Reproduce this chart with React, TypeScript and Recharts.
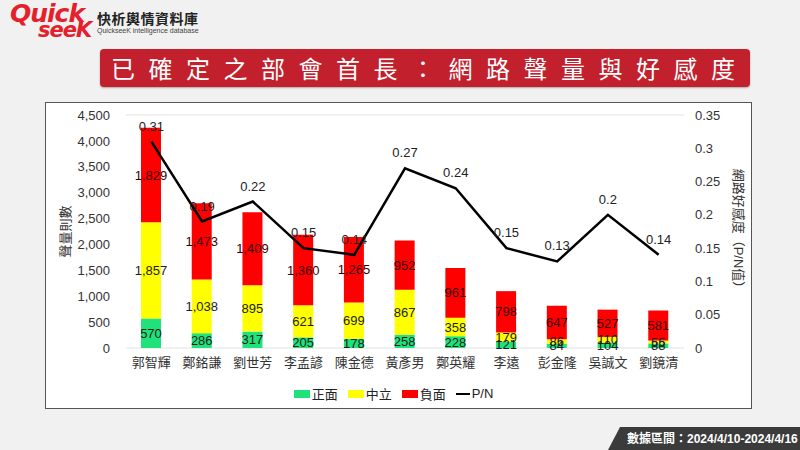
import { ComposedChart, Bar, Line, XAxis, YAxis, CartesianGrid, LabelList } from 'recharts';

const names = ['郭智輝', '鄭銘謙', '劉世芳', '李孟諺', '陳金德', '黃彥男', '鄭英耀', '李遠', '彭金隆', '吳誠文', '劉鏡清'];
const positive = [570, 286, 317, 205, 178, 258, 228, 121, 84, 104, 88];
const neutral = [1857, 1038, 895, 621, 699, 867, 358, 179, 86, 110, 55];
const negative = [1829, 1473, 1409, 1360, 1265, 952, 961, 798, 647, 527, 581];
const pn = [0.31, 0.19, 0.22, 0.15, 0.14, 0.27, 0.24, 0.15, 0.13, 0.2, 0.14];

const leftTicks = [0, 500, 1000, 1500, 2000, 2500, 3000, 3500, 4000, 4500];
const rightTicks = [0, 0.05, 0.1, 0.15, 0.2, 0.25, 0.3, 0.35];

const data = names.map((name, i) => ({
  name,
  pos: positive[i],
  neu: neutral[i],
  neg: negative[i],
  pn: pn[i],
}));

const FONT = '"Liberation Sans", "Noto Sans CJK TC", sans-serif';
const GREEN = '#1fe27a';
const YELLOW = '#ffff00';
const RED = '#ff0000';

const fmt = (v: number) => v.toLocaleString('en-US');

const legendItems = [
  { label: '正面', color: GREEN, type: 'box' },
  { label: '中立', color: YELLOW, type: 'box' },
  { label: '負面', color: RED, type: 'box' },
  { label: 'P/N', color: '#000', type: 'line' },
];

const ChartLegend = () => (
  <div style={{ display: 'flex', justifyContent: 'center', alignItems: 'center', fontSize: 13, color: '#222', fontFamily: FONT }}>
    {legendItems.map((it) => (
      <div key={it.label} style={{ display: 'flex', alignItems: 'center', marginRight: 10 }}>
        {it.type === 'box' ? (
          <span style={{ display: 'inline-block', width: 16, height: 8, background: it.color, marginRight: 2 }} />
        ) : (
          <span style={{ display: 'inline-block', width: 14, height: 2, background: it.color, marginRight: 2 }} />
        )}
        <span>{it.label}</span>
      </div>
    ))}
  </div>
);

const App = () => {
  return (
    <div style={{ position: 'fixed', left: 0, top: 0, width: 800, height: 450, background: '#f1f1f1', overflow: 'hidden', fontFamily: FONT }}>
      {/* logo */}
      <div style={{ position: 'absolute', left: 10, top: 2, color: '#e3202b', fontWeight: 900, fontStyle: 'italic', fontSize: 25, lineHeight: '24px', fontFamily: '"DejaVu Sans", sans-serif', letterSpacing: -1 }}>
        Quick
      </div>
      <div style={{ position: 'absolute', left: 38, top: 19, color: '#e3202b', fontWeight: 900, fontStyle: 'italic', fontSize: 21, lineHeight: '22px', fontFamily: '"DejaVu Sans", sans-serif', letterSpacing: -1 }}>
        seeK
      </div>
      <div style={{ position: 'absolute', left: 97, top: 8, fontSize: 14, fontWeight: 700, color: '#222', letterSpacing: 0.5 }}>快析輿情資料庫</div>
      <div style={{ position: 'absolute', left: 97, top: 27, fontSize: 7, color: '#444' }}>QuickseeK intelligence database</div>

      {/* title banner */}
      <div style={{ position: 'absolute', left: 100, top: 49, width: 650, height: 38, background: '#c3202d', borderRadius: 4, boxShadow: '0 1px 2px rgba(0,0,0,0.3)' }} />
      <div style={{ position: 'absolute', left: 111, top: 49, height: 38, lineHeight: '38px', fontSize: 24, color: '#fff', letterSpacing: 13.5, whiteSpace: 'nowrap', fontFamily: '"Noto Sans CJK TC", sans-serif' }}>
        已確定之部會首長：網路聲量與好感度
      </div>

      {/* chart panel */}
      <div style={{ position: 'absolute', left: 45, top: 102, width: 705, height: 305, background: '#fff', border: '1px solid #555' }}>
        <div style={{ position: 'absolute', left: -1, top: -1 }}>
          <ComposedChart
            width={707}
            height={307}
            data={data}
            margin={{ top: 13, right: 13, bottom: 31, left: 21 }}
            barCategoryGap={0}
            style={{ fontFamily: FONT }}
          >
            <CartesianGrid vertical={false} stroke="#e2e2e2" />
            <XAxis
              dataKey="name"
              height={30}
              axisLine={false}
              tickLine={false}
              tickSize={0}
              tickMargin={10}
              interval={0}
              tick={{ fontSize: 13, fill: '#333' }}
            />
            <YAxis
              yAxisId="left"
              width={60}
              domain={[0, 4500]}
              ticks={leftTicks}
              interval={0}
              axisLine={false}
              tickLine={false}
              tickSize={0}
              tickMargin={16}
              tickFormatter={fmt}
              tick={{ fontSize: 13, fill: '#333' }}
              label={{ value: '聲量則數', angle: -90, position: 'insideLeft', offset: -1, style: { fontSize: 13, fill: '#333', textAnchor: 'middle' } }}
            />
            <YAxis
              yAxisId="right"
              orientation="right"
              width={55}
              domain={[0, 0.35]}
              ticks={rightTicks}
              interval={0}
              axisLine={false}
              tickLine={false}
              tickSize={0}
              tickMargin={11}
              tick={{ fontSize: 13, fill: '#333', textAnchor: 'start' }}
              label={{ value: '網路好感度（P/N值）', angle: 90, position: 'insideRight', offset: 0, style: { fontSize: 13, fill: '#333', textAnchor: 'middle' } }}
            />
            <Bar yAxisId="left" dataKey="pos" stackId="a" fill={GREEN} barSize={20} isAnimationActive={false}>
              <LabelList dataKey="pos" position="center" formatter={fmt} style={{ fontSize: 13, fill: '#1d1d1d' }} />
            </Bar>
            <Bar yAxisId="left" dataKey="neu" stackId="a" fill={YELLOW} barSize={20} isAnimationActive={false}>
              <LabelList dataKey="neu" position="center" formatter={fmt} style={{ fontSize: 13, fill: '#1d1d1d' }} />
            </Bar>
            <Bar yAxisId="left" dataKey="neg" stackId="a" fill={RED} barSize={20} isAnimationActive={false}>
              <LabelList dataKey="neg" position="center" formatter={fmt} style={{ fontSize: 13, fill: '#3a0000' }} />
            </Bar>
            <Line
              yAxisId="right"
              dataKey="pn"
              stroke="#000"
              strokeWidth={2.5}
              dot={false}
              activeDot={false}
              isAnimationActive={false}
            >
              <LabelList dataKey="pn" position="top" offset={11} style={{ fontSize: 13, fill: '#222' }} />
            </Line>
          </ComposedChart>
        </div>
        <div style={{ position: 'absolute', left: 0, top: 281, width: 705 }}>
          <ChartLegend />
        </div>
      </div>

      {/* footer */}
      <svg style={{ position: 'absolute', left: 0, top: 0 }} width={800} height={450}>
        <polygon points="620,427 800,427 800,450 608,450" fill="#3b3b3b" />
        <text x={627} y={443} fill="#fff" fontSize={12} fontWeight={700} fontFamily={FONT}>數據區間：2024/4/10-2024/4/16</text>
      </svg>
    </div>
  );
};

export default App;
